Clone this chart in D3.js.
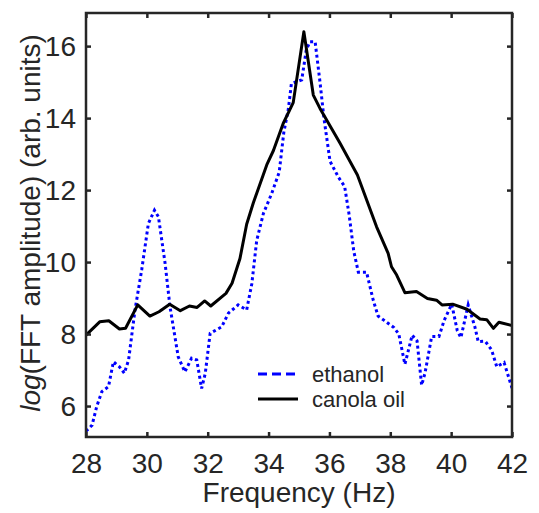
<!DOCTYPE html>
<html>
<head>
<meta charset="utf-8">
<script src="https://cdn.jsdelivr.net/npm/d3@7"></script>
<style>
    body { margin: 0; background: #fff; }
    text { font-family: "Liberation Sans", Arial, sans-serif; fill: #262626; }
</style>
</head>
<body>
<div class="charts-div"></div>
<script>
// frequency (Hz) / log amplitude pairs
const ethanolFreq = [28.0, 28.2, 28.35, 28.52, 28.74, 28.9, 29.1, 29.26, 29.4, 29.61, 29.83, 30.05, 30.25, 30.38, 30.6, 30.76,
    31.03, 31.25, 31.47, 31.64, 31.8, 31.92, 32.08, 32.46, 32.68, 33.0, 33.28, 33.45, 33.61, 33.83, 34.1, 34.35, 34.5,
    34.65, 34.75, 35.09, 35.24, 35.36, 35.53, 35.69, 35.82, 36.02, 36.3, 36.5, 36.65, 36.8, 36.95, 37.22, 37.44, 37.6,
    37.8, 38.12, 38.28, 38.48, 38.72, 38.88, 39.03, 39.14, 39.36, 39.6, 39.77, 40.02, 40.2, 40.32, 40.45, 40.56, 40.78,
    40.89, 41.12, 41.33, 41.5, 41.74, 42.0];
const ethanolAmp = [5.3, 5.47, 5.98, 6.4, 6.54, 7.23, 7.09, 6.91, 7.28, 8.67, 9.78, 11.07, 11.44, 11.26, 9.96, 8.76,
    7.37, 6.95, 7.33, 7.28, 6.49, 6.91, 8.02, 8.2, 8.58, 8.81, 8.67, 9.4, 10.6, 11.35, 11.9, 12.5, 13.6,
    14.25, 14.96, 15.06, 15.9, 16.12, 16.12, 15.0, 14.0, 12.8, 12.35, 12.1, 11.3, 10.3, 9.72, 9.72, 8.94, 8.5,
    8.38, 8.18, 8.0, 7.16, 7.97, 7.81, 6.58, 6.91, 7.93, 7.93, 8.38, 8.83, 8.1, 7.9, 8.39, 8.81, 8.2,
    7.79, 7.8, 7.56, 7.09, 7.21, 6.5];

const canolaFreq = [28.0, 28.45, 28.75, 29.1, 29.3, 29.7, 30.1, 30.4, 30.75, 31.1, 31.4, 31.65, 31.9, 32.1, 32.6, 32.8,
    33.06, 33.28, 33.5, 33.94, 34.16, 34.48, 34.81, 35.16, 35.47, 35.69, 36.35, 36.92, 37.55, 37.93, 38.04, 38.21,
    38.48, 38.86, 39.22, 39.52, 39.7, 40.05, 40.52, 40.95, 41.17, 41.39, 41.57, 42.0];
const canolaAmp = [7.97, 8.34, 8.37, 8.14, 8.16, 8.81, 8.5, 8.62, 8.83, 8.65, 8.78, 8.74, 8.92, 8.78, 9.13, 9.41,
    10.1, 11.05, 11.65, 12.7, 13.1, 13.85, 14.43, 16.4, 14.64, 14.27, 13.3, 12.42, 10.98, 10.24, 9.87, 9.64,
    9.15, 9.18, 8.99, 8.94, 8.81, 8.83, 8.69, 8.42, 8.4, 8.16, 8.33, 8.24];

const xTicks = [28, 30, 32, 34, 36, 38, 40, 42];
const yTicks = [6, 8, 10, 12, 14, 16];
const seriesNames = ["ethanol", "canola oil"];

const width = 539;
const height = 513;
const margins = { left: 86, right: 27, top: 13, bottom: 76 };
const axisColor = "#262626";
const tickLength = 5;

const svg = d3.select(".charts-div").append("svg").attr("width", width).attr("height", height);

const xScale = d3.scaleLinear().domain([28, 42]).range([margins.left, width - margins.right]);
const yScale = d3.scaleLinear().domain([5.14, 16.92]).range([height - margins.bottom, margins.top]);

const [x0, x1] = xScale.range();
const [y0, y1] = yScale.range();

// data lines, clipped to the axes box
svg.append("clipPath").attr("id", "plotClip")
    .append("rect").attr("x", x0).attr("y", y1).attr("width", x1 - x0).attr("height", y0 - y1);

const line = d3.line().x((d) => xScale(d[0])).y((d) => yScale(d[1]));
const plot = svg.append("g").attr("clip-path", "url(#plotClip)");

plot.append("path")
    .datum(d3.zip(ethanolFreq, ethanolAmp))
    .attr("d", line)
    .attr("fill", "none")
    .attr("stroke", "#0000ff")
    .attr("stroke-width", 3)
    .attr("stroke-dasharray", "3,3");

plot.append("path")
    .datum(d3.zip(canolaFreq, canolaAmp))
    .attr("d", line)
    .attr("fill", "none")
    .attr("stroke", "#000")
    .attr("stroke-width", 3)
    .attr("stroke-linejoin", "round");

// axes: inward ticks on all four sides (box on)
const axisFont = (g) => g.selectAll("text").style("font-size", "28px").attr("fill", axisColor);

svg.append("g")
    .attr("transform", `translate(0,${y0})`)
    .call(d3.axisBottom(xScale).tickValues(xTicks).tickSize(-tickLength).tickPadding(16).tickFormat(d3.format("d")))
    .call((g) => g.select(".domain").remove())
    .call(axisFont);

svg.append("g")
    .attr("transform", `translate(0,${y1})`)
    .call(d3.axisTop(xScale).tickValues(xTicks).tickSize(-tickLength).tickFormat(""))
    .call((g) => g.select(".domain").remove());

svg.append("g")
    .attr("transform", `translate(${x0},0)`)
    .call(d3.axisLeft(yScale).tickValues(yTicks).tickSize(-tickLength).tickPadding(10).tickFormat(d3.format("d")))
    .call((g) => g.select(".domain").remove())
    .call(axisFont);

svg.append("g")
    .attr("transform", `translate(${x1},0)`)
    .call(d3.axisRight(yScale).tickValues(yTicks).tickSize(-tickLength).tickFormat(""))
    .call((g) => g.select(".domain").remove());

svg.selectAll(".tick line").attr("stroke", axisColor).attr("stroke-width", 2.5);

svg.append("rect")
    .attr("x", x0).attr("y", y1)
    .attr("width", x1 - x0).attr("height", y0 - y1)
    .attr("fill", "none")
    .attr("stroke", axisColor)
    .attr("stroke-width", 2.5);

// axis labels
svg.append("text")
    .attr("x", (x0 + x1) / 2)
    .attr("y", 502)
    .attr("text-anchor", "middle")
    .style("font-size", "28px")
    .text("Frequency (Hz)");

const yLabel = svg.append("text")
    .attr("transform", `translate(40,${(y0 + y1) / 2 - 2}) rotate(-90)`)
    .attr("text-anchor", "middle")
    .style("font-size", "28px");
yLabel.append("tspan").style("font-style", "italic").text("log");
yLabel.append("tspan").text("(FFT amplitude) (arb. units)");

// legend, no box
const legend = svg.append("g").attr("class", "legend");
const legendRows = [
    { name: seriesNames[0], color: "#0000ff", dash: "9,5", y: 374 },
    { name: seriesNames[1], color: "#000", dash: null, y: 399 }
];
legendRows.forEach((row) => {
    legend.append("line")
        .attr("x1", 258).attr("x2", 298)
        .attr("y1", row.y).attr("y2", row.y)
        .attr("stroke", row.color)
        .attr("stroke-width", 3)
        .attr("stroke-dasharray", row.dash);
    legend.append("text")
        .attr("x", 312)
        .attr("y", row.y + 8)
        .style("font-size", "22px")
        .text(row.name);
});
</script>
</body>
</html>
